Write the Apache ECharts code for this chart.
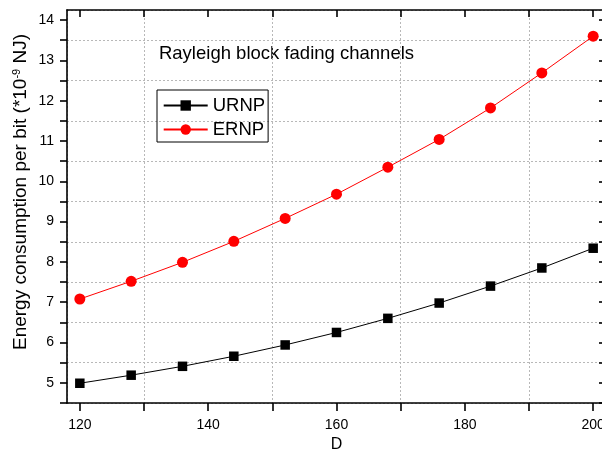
<!DOCTYPE html>
<html>
<head>
<meta charset="utf-8">
<script src="https://cdn.jsdelivr.net/npm/echarts@6/dist/echarts.min.js"></script>
<style>
html,body{margin:0;padding:0;background:#fff;}
#c{width:602px;height:451px;}
</style>
</head>
<body>
<div id="c"></div>
<script>
// ---- data ----
const D = [120, 128, 136, 144, 152, 160, 168, 176, 184, 192, 200];
const urnp = [4.99, 5.19, 5.41, 5.66, 5.94, 6.25, 6.60, 6.98, 7.40, 7.85, 8.34];
const ernp = [7.08, 7.52, 7.99, 8.51, 9.08, 9.68, 10.35, 11.04, 11.82, 12.69, 13.60];
const xTickLabels = [120, 140, 160, 180, 200];
const yTickLabels = [5, 6, 7, 8, 9, 10, 11, 12, 13, 14];
const seriesNames = ['URNP', 'ERNP'];
const titleText = 'Rayleigh block fading channels';
const xName = 'D';

const FF = 'Liberation Sans, Arial, sans-serif';
const frameLine = { show: true, onZero: false, lineStyle: { color: '#000', width: 1.6 } };
const gridLineStyle = { color: '#b8b8b8', width: 1, type: [2, 2] };
const off = { show: false };

const chart = echarts.init(document.getElementById('c'), null, { renderer: 'canvas' });

const option = {
  backgroundColor: '#fff',
  animation: false,
  grid: [
    // frame + gridlines (D 118..202, y 4.5..14.25)
    { left: 67, right: -4, top: 10, bottom: 48, outerBoundsMode: 'none', containLabel: false },
    // data + x ticks (D 120..200)
    { left: 79.83, right: 8.83, top: 10, bottom: 48, outerBoundsMode: 'none', containLabel: false },
    // y ticks (4.5..14)
    { left: 67, right: -4, top: 20.08, bottom: 48, outerBoundsMode: 'none', containLabel: false }
  ],
  xAxis: [
    { gridIndex: 0, type: 'value', min: 118, max: 202, position: 'bottom', axisLine: frameLine, axisTick: off, axisLabel: off, splitLine: off },
    { gridIndex: 0, type: 'value', min: 118, max: 202, position: 'top', axisLine: frameLine, axisTick: off, axisLabel: off, splitLine: off },
    { gridIndex: 0, type: 'value', min: 108, max: 192, minInterval: 20, maxInterval: 20, position: 'bottom',
      axisLine: off, axisTick: off, axisLabel: off, splitLine: { show: true, lineStyle: gridLineStyle } },
    { gridIndex: 1, type: 'value', min: 120, max: 200, interval: 10, position: 'bottom',
      axisLine: { show: false, onZero: false },
      axisTick: { show: true, inside: false, length: 8, lineStyle: { color: '#000', width: 1.6 } },
      axisLabel: { show: true, margin: 15, color: '#000', fontSize: 14, fontFamily: FF,
        formatter: v => xTickLabels.includes(v) ? String(v) : '' },
      splitLine: off,
      name: xName, nameLocation: 'middle', nameGap: 34,
      nameTextStyle: { color: '#000', fontSize: 16, fontFamily: FF } },
    { gridIndex: 1, type: 'value', min: 120, max: 200, interval: 10, position: 'top',
      axisLine: { show: false, onZero: false },
      axisTick: { show: true, inside: true, length: 7, lineStyle: { color: '#000', width: 1.6 } },
      axisLabel: off, splitLine: off },
    { gridIndex: 2, type: 'value', min: 118, max: 202, show: false }
  ],
  yAxis: [
    { gridIndex: 0, type: 'value', min: 4.5, max: 14.25, position: 'left', axisLine: frameLine, axisTick: off, axisLabel: off, splitLine: off },
    { gridIndex: 0, type: 'value', min: 4.5, max: 14.25, position: 'right', axisLine: frameLine, axisTick: off, axisLabel: off, splitLine: off },
    { gridIndex: 0, type: 'value', min: 4.5, max: 14.25, interval: 1, position: 'left',
      axisLine: off, axisTick: off, axisLabel: off, splitLine: { show: true, lineStyle: gridLineStyle } },
    { gridIndex: 1, type: 'value', min: 4.5, max: 14.25, show: false },
    { gridIndex: 2, type: 'value', min: 4.5, max: 14, interval: 0.5, position: 'left',
      axisLine: { show: false, onZero: false },
      axisTick: { show: true, inside: false, length: 7, lineStyle: { color: '#000', width: 1.6 } },
      axisLabel: { show: true, margin: 13, color: '#000', fontSize: 14, fontFamily: FF,
        formatter: v => yTickLabels.includes(v) ? String(v) : '' },
      splitLine: off },
    { gridIndex: 2, type: 'value', min: 4.5, max: 14, interval: 0.5, position: 'right',
      axisLine: { show: false, onZero: false },
      axisTick: { show: true, inside: true, length: 7, lineStyle: { color: '#000', width: 1.6 } },
      axisLabel: off, splitLine: off }
  ],
  legend: {
    data: seriesNames,
    orient: 'vertical',
    left: 157, top: 90,
    padding: [6, 3, 3, 5.7],
    itemWidth: 44, itemHeight: 13, itemGap: 5,
    borderColor: '#000', borderWidth: 1,
    textStyle: { color: '#000', fontSize: 18.5, lineHeight: 18, fontFamily: FF }
  },
  graphic: [
    { type: 'text', x: 286.5, y: 54, silent: true,
      style: { text: titleText, fill: '#000', fontSize: 18.5, fontFamily: FF, align: 'center', verticalAlign: 'middle' } },
    { type: 'text', x: 21, y: 192, rotation: Math.PI / 2, silent: true,
      style: {
        text: 'Energy consumption per bit (*10{sup|-9} NJ)',
        fill: '#000', fontSize: 19, fontFamily: FF, align: 'center', verticalAlign: 'middle',
        rich: { sup: { fontSize: 11, fontFamily: FF, fill: '#000', verticalAlign: 'top' } }
      } }
  ],
  series: [
    { name: seriesNames[0], type: 'line', xAxisIndex: 3, yAxisIndex: 3,
      data: D.map((d, i) => [d, urnp[i]]),
      symbol: 'rect', symbolSize: 9.5,
      lineStyle: { color: '#000', width: 1 }, itemStyle: { color: '#000' }, z: 3 },
    { name: seriesNames[1], type: 'line', xAxisIndex: 3, yAxisIndex: 3,
      data: D.map((d, i) => [d, ernp[i]]),
      symbol: 'circle', symbolSize: 11,
      lineStyle: { color: '#ff0000', width: 1 }, itemStyle: { color: '#ff0000' }, z: 3 }
  ]
};
chart.setOption(option);
</script>
</body>
</html>
